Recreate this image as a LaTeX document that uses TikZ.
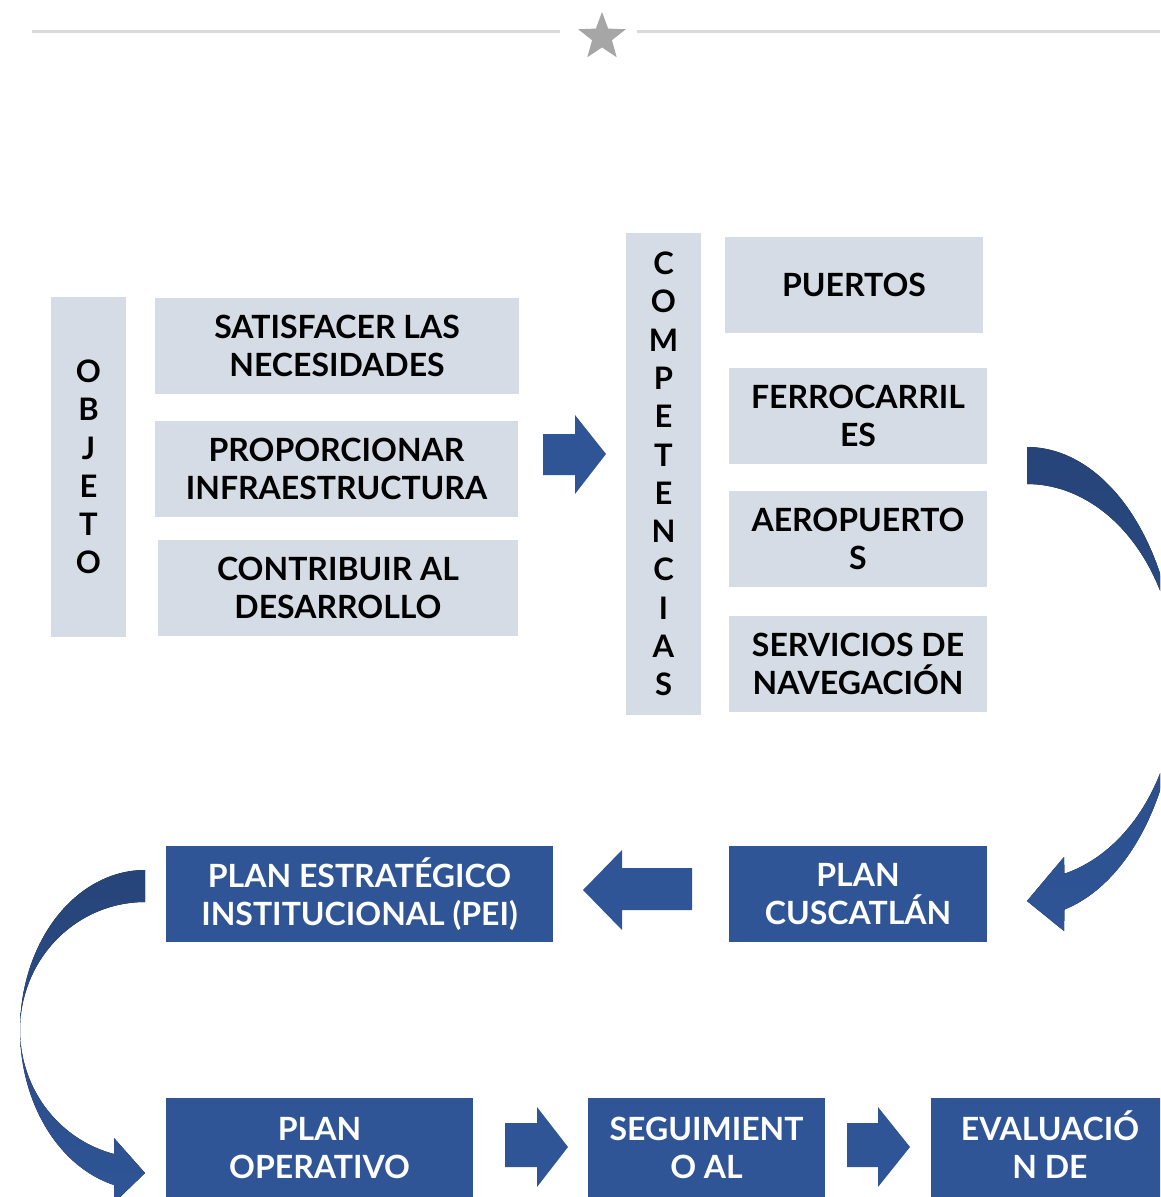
\documentclass[tikz,border=0pt]{standalone}
\usepackage{fontspec}
\setmainfont{Lato}
\usetikzlibrary{shapes.geometric}
\definecolor{lightbox}{HTML}{D6DCE5}
\definecolor{darkbox}{HTML}{2F5597}
\definecolor{navy}{HTML}{264478}
\definecolor{rulegray}{HTML}{D9D9D9}
\definecolor{stargray}{HTML}{A6A6A6}
\begin{document}
\begin{tikzpicture}[x=1pt,y=-1pt,
  box/.style={inner sep=0pt, align=center, font=\fontsize{32}{38}\selectfont\bfseries},
  lbox/.style={box, fill=lightbox, text=black},
  dbox/.style={box, fill=darkbox, text=white},
  vbox/.style={lbox, font=\fontsize{31}{38.3}\selectfont\bfseries},
  blockarrow/.style={fill=darkbox},
  curvearrow/.style={top color=navy, bottom color=darkbox},
  rulestyle/.style={draw=rulegray, line width=3pt},
]
\useasboundingbox (0,0) rectangle (1160,1197);
\clip (0,0) rectangle (1160,1197);

% top rule with star
\draw[rulestyle] (32,31) -- (560,31);
\draw[rulestyle] (637,31) -- (1160,31);
\node[star, star points=5, star point ratio=2.4, fill=stargray, minimum size=50pt, inner sep=0pt] (star) at (602,37) {};

% OBJETO column
\node[vbox, minimum width=75pt, minimum height=340pt] (obj) at (88.5,467) {O\\B\\J\\E\\T\\O};
\node[lbox, minimum width=364pt, minimum height=96pt] (sat) at (337,346) {SATISFACER LAS\\NECESIDADES};
\node[lbox, minimum width=363pt, minimum height=96pt] (prop) at (336.5,469) {PROPORCIONAR\\INFRAESTRUCTURA};
\node[lbox, minimum width=360pt, minimum height=96pt] (contr) at (338,588) {CONTRIBUIR AL\\DESARROLLO};

% COMPETENCIAS column
\node[vbox, minimum width=75pt, minimum height=482pt] (comp) at (663.5,474) {C\\O\\M\\P\\E\\T\\E\\N\\C\\I\\A\\S};
\node[lbox, minimum width=258pt, minimum height=96pt] (puer) at (854,285) {PUERTOS};
\node[lbox, minimum width=258pt, minimum height=96pt] (ferro) at (858,416) {FERROCARRIL\\ES};
\node[lbox, minimum width=258pt, minimum height=96pt] (aero) at (858,539) {AEROPUERTO\\S};
\node[lbox, minimum width=258pt, minimum height=96pt] (serv) at (858,664) {SERVICIOS DE\\NAVEGACIÓN};

% plans
\node[dbox, minimum width=387pt, minimum height=96pt] (pei) at (359.5,894) {PLAN ESTRATÉGICO\\INSTITUCIONAL (PEI)};
\node[dbox, minimum width=258pt, minimum height=96pt] (cusc) at (858,894) {PLAN\\CUSCATLÁN};
\node[dbox, minimum width=307pt, minimum height=100pt] (op) at (319.5,1148) {PLAN\\OPERATIVO};
\node[dbox, minimum width=237pt, minimum height=100pt] (seg) at (706.5,1148) {SEGUIMIENT\\O AL};
\node[dbox, minimum width=238pt, minimum height=100pt] (eval) at (1050,1148) {EVALUACI\smash{Ó}\\N DE};

% block arrows
\fill[blockarrow] (543,434) -- (575,434) -- (575,415) -- (606,454) -- (575,494) -- (575,475) -- (543,475) -- cycle;
\fill[blockarrow] (692,868) -- (622,868) -- (622,850) -- (583,890) -- (622,930) -- (622,910) -- (692,910) -- cycle;
\fill[blockarrow] (505,1123) -- (537,1123) -- (537,1107) -- (568,1147) -- (537,1187) -- (537,1167) -- (505,1167) -- cycle;
\fill[blockarrow] (847,1123) -- (878,1123) -- (878,1107) -- (910,1147) -- (878,1187) -- (878,1167) -- (847,1167) -- cycle;

% curved arrow right side
\fill[curvearrow] plot[domain=-90:75.52, samples=90] ({1027+150*cos(\x)}, {682+235*sin(\x)})
  -- (1064,931) -- (1027,901) -- (1064,857)
  -- plot[domain=75.52:-90, samples=90] ({1027+150*cos(\x)}, {682+198*sin(\x)}) -- cycle;

% curved arrow left side
\fill[curvearrow] plot[domain=-90:75.64, samples=90] ({145-125*cos(\x)}, {1030+160*sin(\x)})
  -- (114,1203) -- (145,1173) -- (114,1138)
  -- plot[domain=75.64:-90, samples=90] ({145-125*cos(\x)}, {1030+128*sin(\x)}) -- cycle;
\end{tikzpicture}
\end{document}
